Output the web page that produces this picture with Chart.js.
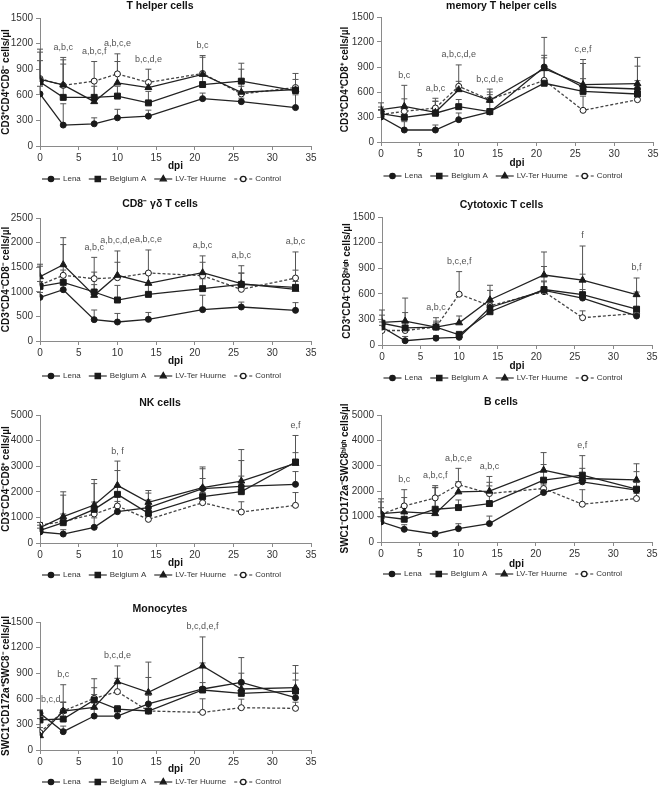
<!DOCTYPE html>
<html>
<head>
<meta charset="utf-8">
<script src="https://cdn.jsdelivr.net/npm/chart.js@4.4.1/dist/chart.umd.min.js"></script>
<style>
  body { margin: 0; background: #fff; width: 659px; height: 788px; position: relative; overflow: hidden; }
  canvas { position: absolute; }
</style>
</head>
<body>
<script>
// sampling days and groups
const days = [0, 3, 7, 10, 14, 21, 26, 33];
const groups = ["Lena", "Belgium A", "LV-Ter Huurne", "Control"];

// T helper cells
const thLena = [610, 245, 260, 330, 350, 555, 520, 450];
const thLenaSd = [90, 250, 70, 100, 70, 65, 40, 150];
const thBelgium = [750, 570, 570, 585, 505, 720, 760, 650];
const thBelgiumSd = [250, 390, 210, 115, 135, 130, 210, 200];
const thLV = [780, 715, 520, 740, 685, 840, 630, 660];
const thLVSd = [320, 295, 180, 250, 75, 200, 270, 40];
const thControl = [790, 710, 760, 845, 745, 850, 610, 685];
const thControlSd = [345, 328, 230, 235, 155, 210, 90, 95];
const thNoteDays = [3, 7, 10, 14, 21];
const thNotes = ["a,b,c", "a,b,c,f", "a,b,c,e", "b,c,d,e", "b,c"];

// memory T helper cells
const mthLena = [300, 144, 144, 268, 360, 900, 660, 636];
const mthLenaSd = [80, 100, 60, 80, 40, 140, 100, 100];
const mthBelgium = [340, 296, 345, 424, 365, 705, 607, 576];
const mthBelgiumSd = [80, 100, 145, 86, 235, 305, 335, 334];
const mthLV = [388, 428, 356, 628, 500, 880, 688, 700];
const mthLVSd = [82, 252, 169, 100, 135, 375, 302, 315];
const mthControl = [330, 368, 408, 668, 508, 740, 380, 508];
const mthControlSd = [60, 150, 80, 257, 60, 120, 170, 60];
const mthNoteDays = [3, 7, 10, 14, 26];
const mthNotes = ["b,c", "a,b,c", "a,b,c,d,e", "b,c,d,e", "c,e,f"];

// CD8- gamma delta T cells
const gdLena = [887, 1043, 434, 386, 440, 637, 691, 623];
const gdLenaSd = [100, 150, 196, 174, 140, 293, 100, 157];
const gdBelgium = [1110, 1192, 996, 833, 948, 1064, 1150, 1090];
const gdBelgiumSd = [100, 250, 150, 297, 200, 200, 230, 120];
const gdLV = [1307, 1551, 928, 1335, 1172, 1389, 1165, 1050];
const gdLVSd = [253, 549, 472, 265, 200, 341, 365, 390];
const gdControl = [1140, 1335, 1267, 1287, 1382, 1328, 1050, 1280];
const gdControlSd = [380, 625, 433, 543, 468, 272, 330, 530];
const gdNoteDays = [7, 10, 14, 21, 26, 33];
const gdNotes = ["a,b,c", "a,b,c,d,e", "a,b,c,e", "a,b,c", "a,b,c", "a,b,c"];

// Cytotoxic T cells
const ctLena = [210, 50, 80, 90, 440, 640, 550, 340];
const ctLenaSd = [60, 50, 30, 40, 60, 100, 100, 40];
const ctBelgium = [255, 200, 210, 120, 390, 650, 590, 420];
const ctBelgiumSd = [95, 60, 70, 40, 60, 100, 240, 200];
const ctLV = [265, 280, 210, 260, 530, 820, 760, 590];
const ctLVSd = [145, 100, 110, 80, 170, 270, 400, 195];
const ctControl = [170, 170, 210, 595, 460, 625, 320, 370];
const ctControlSd = [60, 380, 50, 265, 180, 295, 80, 60];
const ctNoteDays = [7, 10, 26, 33];
const ctNotes = ["a,b,c", "b,c,e,f", "f", "b,f"];

// NK cells
const nkLena = [430, 350, 612, 1224, 1380, 2122, 2213, 2291];
const nkLenaSd = [150, 170, 370, 400, 300, 778, 400, 500];
const nkBelgium = [495, 794, 1315, 1900, 1159, 1810, 2005, 3164];
const nkBelgiumSd = [200, 1076, 1005, 930, 790, 710, 1215, 1036];
const nkLV = [600, 1028, 1484, 2252, 1588, 2161, 2421, 3112];
const nkLVSd = [200, 972, 996, 948, 462, 809, 1229, 418];
const nkControl = [703, 833, 1133, 1445, 924, 1575, 1211, 1471];
const nkControlSd = [100, 300, 467, 400, 300, 400, 400, 500];
const nkNoteDays = [10, 33];
const nkNotes = ["b, f", "e,f"];

// B cells
const bLena = [790, 500, 316, 526, 724, 1948, 2370, 2040];
const bLenaSd = [200, 180, 100, 194, 296, 300, 300, 300];
const bBelgium = [1013, 895, 1290, 1355, 1513, 2435, 2632, 2080];
const bBelgiumSd = [337, 300, 860, 300, 837, 615, 768, 690];
const bLV = [1118, 1184, 1118, 1974, 2000, 2829, 2500, 2448];
const bLVSd = [462, 566, 1102, 400, 580, 691, 400, 632];
const bControl = [1092, 1421, 1737, 2263, 1908, 2105, 1487, 1711];
const bControlSd = [608, 639, 400, 637, 300, 300, 573, 200];
const bNoteDays = [3, 7, 10, 14, 26];
const bNotes = ["b,c", "a,b,c,f", "a,b,c,e", "a,b,c", "e,f"];

// Monocytes
const moLena = [430, 215, 398, 398, 540, 715, 793, 613];
const moLenaSd = [40, 65, 100, 100, 100, 305, 290, 207];
const moBelgium = [352, 363, 586, 480, 457, 703, 664, 691];
const moBelgiumSd = [110, 200, 144, 40, 100, 87, 100, 209];
const moLV = [168, 457, 500, 800, 676, 984, 715, 730];
const moLVSd = [200, 308, 335, 185, 354, 341, 185, 260];
const moControl = [203, 457, 605, 684, 457, 441, 496, 488];
const moControlSd = [60, 100, 45, 156, 393, 159, 100, 72];
const moNoteDays = [0, 3, 10, 21];
const moNotes = ["b,c,d", "b,c", "b,c,d,e", "b,c,d,e,f"];

const FONT = "'Liberation Sans', Arial, sans-serif";

// look of the four groups
const looks = [
  { pointStyle: "circle", pointRadius: 3, fill: "#1a1a1a", dash: [] },
  { pointStyle: "rect", pointRadius: 4.2, fill: "#1a1a1a", dash: [] },
  { pointStyle: "triangle", pointRadius: 4, fill: "#1a1a1a", dash: [] },
  { pointStyle: "circle", pointRadius: 3, fill: "#ffffff", dash: [3, 2] }
];

// draws error bars, titles, dpi label, legend and letters
const decor = {
  id: "decor",
  beforeDatasetsDraw(chart, args, o) {
    const ctx = chart.ctx;
    const ys = chart.scales.y;
    ctx.save();
    ctx.strokeStyle = "#555";
    ctx.lineWidth = 1;
    chart.data.datasets.forEach((ds, i) => {
      const meta = chart.getDatasetMeta(i);
      meta.data.forEach((pt, j) => {
        const top = ys.getPixelForValue(ds.data[j].y + o.sd[i][j]);
        ctx.beginPath();
        ctx.moveTo(pt.x, pt.y);
        ctx.lineTo(pt.x, top);
        ctx.moveTo(pt.x - 3, top);
        ctx.lineTo(pt.x + 3, top);
        ctx.stroke();
      });
    });
    ctx.restore();
  },
  afterDraw(chart, args, o) {
    const ctx = chart.ctx;
    const area = chart.chartArea;
    const xs = chart.scales.x;
    const ys = chart.scales.y;
    const mid = (area.left + area.right) / 2;
    ctx.save();
    ctx.textBaseline = "middle";
    ctx.textAlign = "center";

    // title
    ctx.fillStyle = "#111";
    ctx.font = "bold 10.5px " + FONT;
    ctx.fillText(o.title, mid - 15.5, o.titleY);

    // x axis name
    ctx.font = "bold 10px " + FONT;
    ctx.fillText("dpi", mid, o.dpiY);

    // significance letters
    ctx.fillStyle = "#555";
    ctx.font = "9px " + FONT;
    o.noteDays.forEach((d, k) => {
      const j = days.indexOf(d);
      let top = 0;
      chart.data.datasets.forEach((ds, i) => {
        top = Math.max(top, ds.data[j].y + o.sd[i][j]);
      });
      const w = ctx.measureText(o.notes[k]).width;
      const cx = Math.max(xs.getPixelForValue(d), area.left + 1 + w / 2);
      ctx.fillText(o.notes[k], cx, ys.getPixelForValue(top) - 10);
    });

    // legend
    ctx.font = "8px " + FONT;
    ctx.textAlign = "left";
    const lineLen = 18, gap = 3, itemGap = 8;
    const widths = groups.map(g => lineLen + gap + ctx.measureText(g).width);
    const total = widths.reduce((a, b) => a + b, 0) + itemGap * (groups.length - 1);
    let x = mid - 14 - total / 2;
    const y = o.legendY;
    groups.forEach((g, i) => {
      const lk = looks[i];
      ctx.strokeStyle = "#333";
      ctx.lineWidth = 1.2;
      ctx.setLineDash(lk.dash);
      ctx.beginPath();
      ctx.moveTo(x, y);
      ctx.lineTo(x + lineLen, y);
      ctx.stroke();
      ctx.setLineDash([]);
      ctx.fillStyle = lk.fill;
      ctx.strokeStyle = "#1a1a1a";
      Chart.helpers.drawPoint(ctx, { pointStyle: lk.pointStyle, radius: lk.pointRadius * 0.9, rotation: 0, borderWidth: 1 }, x + lineLen / 2, y);
      ctx.fillStyle = "#333";
      ctx.fillText(g, x + lineLen + gap, y);
      x += widths[i] + itemGap;
    });
    ctx.restore();
  }
};

const panels = [
  { title: "T helper cells", yTitle: "CD3⁺CD4⁺CD8⁻ cells/µl", yMax: 1500, yStep: 300,
    series: [thLena, thBelgium, thLV, thControl], sd: [thLenaSd, thBelgiumSd, thLVSd, thControlSd],
    noteDays: thNoteDays, notes: thNotes,
    box: { cl: 0, ct: 0, cw: 330, ch: 188, left: 40, top: 18, right: 311, bottom: 146, titleY: 6, dpiY: 166, legendY: 179 } },
  { title: "memory T helper cells", yTitle: "CD3⁺CD4⁺CD8⁺ cells/µl", yMax: 1500, yStep: 300,
    series: [mthLena, mthBelgium, mthLV, mthControl], sd: [mthLenaSd, mthBelgiumSd, mthLVSd, mthControlSd],
    noteDays: mthNoteDays, notes: mthNotes,
    box: { cl: 339, ct: 0, cw: 320, ch: 188, left: 381, top: 17, right: 653, bottom: 142, titleY: 6, dpiY: 163, legendY: 176 } },
  { title: "CD8⁻ γδ T cells", yTitle: "CD3⁺CD4⁻CD8⁻ cells/µl", yMax: 2500, yStep: 500,
    series: [gdLena, gdBelgium, gdLV, gdControl], sd: [gdLenaSd, gdBelgiumSd, gdLVSd, gdControlSd],
    noteDays: gdNoteDays, notes: gdNotes,
    box: { cl: 0, ct: 192, cw: 330, ch: 194, left: 40, top: 218, right: 311, bottom: 341, titleY: 204, dpiY: 361, legendY: 376 } },
  { title: "Cytotoxic T cells", yTitle: "CD3⁺CD4⁻CD8ʰⁱᵍʰ cells/µl", yMax: 1500, yStep: 300,
    series: [ctLena, ctBelgium, ctLV, ctControl], sd: [ctLenaSd, ctBelgiumSd, ctLVSd, ctControlSd],
    noteDays: ctNoteDays, notes: ctNotes,
    box: { cl: 341, ct: 192, cw: 318, ch: 194, left: 382, top: 217, right: 652, bottom: 345, titleY: 205, dpiY: 366, legendY: 378 } },
  { title: "NK cells", yTitle: "CD3⁻CD4⁻CD8⁺ cells/µl", yMax: 5000, yStep: 1000,
    series: [nkLena, nkBelgium, nkLV, nkControl], sd: [nkLenaSd, nkBelgiumSd, nkLVSd, nkControlSd],
    noteDays: nkNoteDays, notes: nkNotes,
    box: { cl: 0, ct: 390, cw: 330, ch: 194, left: 40, top: 415, right: 311, bottom: 543, titleY: 403, dpiY: 563, legendY: 575 } },
  { title: "B cells", yTitle: "SWC1⁻CD172a⁻SWC8ʰⁱᵍʰ cells/µl", yMax: 5000, yStep: 1000,
    series: [bLena, bBelgium, bLV, bControl], sd: [bLenaSd, bBelgiumSd, bLVSd, bControlSd],
    noteDays: bNoteDays, notes: bNotes,
    box: { cl: 339, ct: 390, cw: 320, ch: 194, left: 381, top: 415, right: 652, bottom: 542, titleY: 402, dpiY: 564, legendY: 574 } },
  { title: "Monocytes", yTitle: "SWC1⁺CD172a⁺SWC8⁻ cells/µl", yMax: 1500, yStep: 300,
    series: [moLena, moBelgium, moLV, moControl], sd: [moLenaSd, moBelgiumSd, moLVSd, moControlSd],
    noteDays: moNoteDays, notes: moNotes,
    box: { cl: 0, ct: 596, cw: 330, ch: 192, left: 40, top: 622, right: 311, bottom: 750, titleY: 609, dpiY: 769, legendY: 782 } }
];

panels.forEach(p => {
  const b = p.box;
  const canvas = document.createElement("canvas");
  canvas.width = b.cw;
  canvas.height = b.ch;
  canvas.style.left = b.cl + "px";
  canvas.style.top = b.ct + "px";
  document.body.appendChild(canvas);

  new Chart(canvas, {
    type: "line",
    data: {
      datasets: p.series.map((vals, i) => ({
        label: groups[i],
        data: days.map((d, k) => ({ x: d, y: vals[k] })),
        borderColor: i === 3 ? "#444" : "#222",
        borderWidth: 1.3,
        borderDash: looks[i].dash,
        tension: 0,
        pointStyle: looks[i].pointStyle,
        pointRadius: looks[i].pointRadius,
        pointBackgroundColor: looks[i].fill,
        pointBorderColor: "#1a1a1a",
        pointBorderWidth: 1
      }))
    },
    options: {
      responsive: false,
      animation: false,
      devicePixelRatio: 1,
      layout: { padding: { top: b.top - b.ct, right: b.cl + b.cw - b.right, left: 0, bottom: 0 } },
      plugins: {
        legend: { display: false },
        tooltip: { enabled: false },
        decor: {
          title: p.title, sd: p.sd, noteDays: p.noteDays, notes: p.notes,
          titleY: b.titleY - b.ct, dpiY: b.dpiY - b.ct, legendY: b.legendY - b.ct
        }
      },
      scales: {
        x: {
          type: "linear", min: 0, max: 35,
          ticks: { stepSize: 5, maxRotation: 0, padding: 2, color: "#333", font: { family: FONT, size: 10 } },
          grid: { drawOnChartArea: false, tickLength: 4, color: "#8a8a8a" },
          border: { color: "#8a8a8a" },
          afterFit: s => { s.height = b.ct + b.ch - b.bottom; s.paddingLeft = 0; s.paddingRight = 0; }
        },
        y: {
          min: 0, max: p.yMax,
          ticks: { stepSize: p.yStep, padding: 3, color: "#333", font: { family: FONT, size: 10 }, format: { useGrouping: false } },
          grid: { drawOnChartArea: false, tickLength: 4, color: "#8a8a8a" },
          border: { color: "#8a8a8a" },
          title: { display: true, text: p.yTitle, color: "#111", padding: 0, font: { family: FONT, size: 10, weight: "bold" } },
          afterFit: s => { s.width = b.left - b.cl; s.paddingTop = 0; s.paddingBottom = 0; }
        }
      }
    },
    plugins: [decor]
  });
});
</script>
</body>
</html>
